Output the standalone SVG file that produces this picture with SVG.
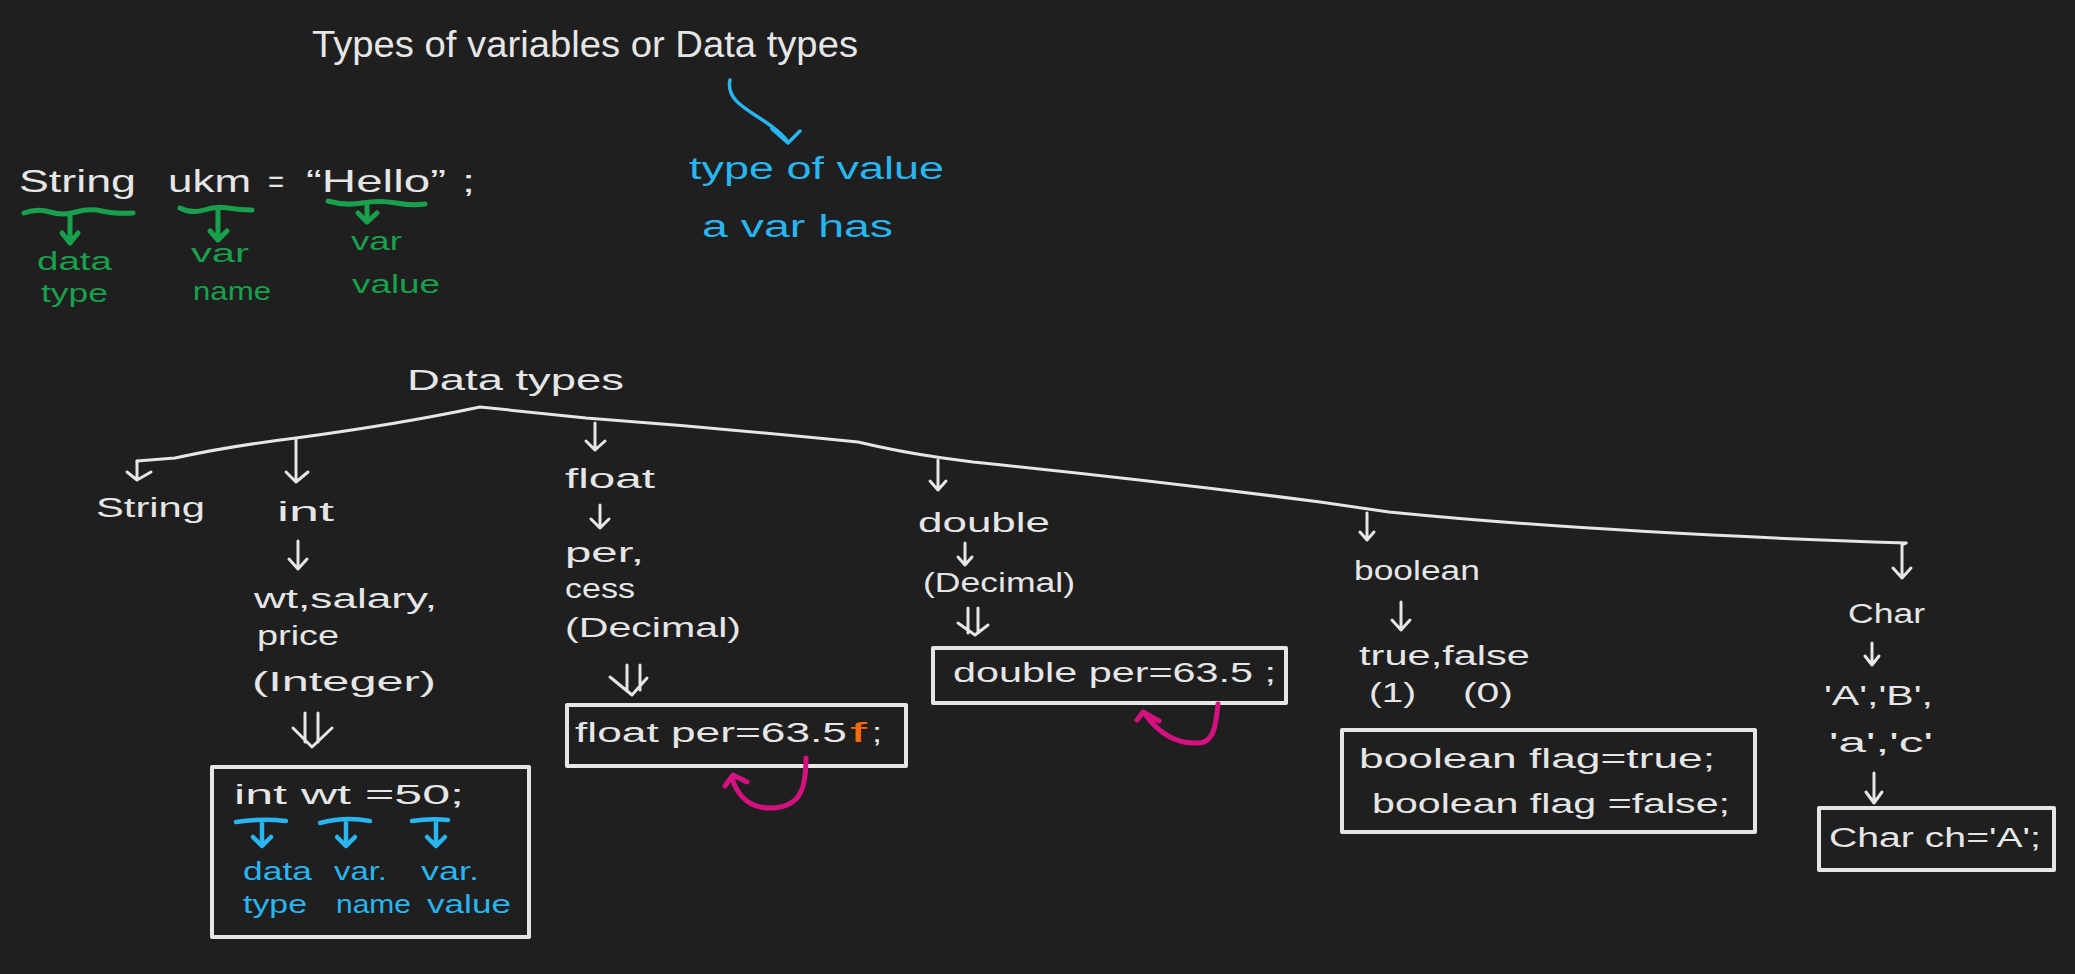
<svg xmlns="http://www.w3.org/2000/svg" width="2075" height="974" viewBox="0 0 2075 974">
<style>
text{font-family:"Liberation Sans","DejaVu Sans",sans-serif;}
.w{fill:#e6e6e6;font-size:27px;}
.t{fill:#e6e6e6;font-size:36px;}
.g{fill:#18a04c;font-size:26px;}
.b{fill:#29b5ef;font-size:26px;}
.bb{fill:#29b5ef;font-size:31px;}
.o{fill:#f76a0a;font-size:27px;}
.ln{fill:none;stroke:#e6e6e6;stroke-width:3;stroke-linecap:round;stroke-linejoin:round;}
.box{fill:none;stroke:#e6e6e6;stroke-width:4;stroke-linejoin:round;}
.gl{fill:none;stroke:#18a04c;stroke-width:5;stroke-linecap:round;stroke-linejoin:round;}
.bl{fill:none;stroke:#29b5ef;stroke-width:4.5;stroke-linecap:round;stroke-linejoin:round;}
.ba{fill:none;stroke:#29b5ef;stroke-width:3.5;stroke-linecap:round;stroke-linejoin:round;}
.ml{fill:none;stroke:#d4117f;stroke-width:5;stroke-linecap:round;stroke-linejoin:round;}
</style>
<rect width="2075" height="974" fill="#1f1f1f"/>

<g id="title">
<text class="t" x="312" y="57" textLength="546" lengthAdjust="spacingAndGlyphs">Types of variables or Data types</text>
</g>

<g id="note-type-of-value">
<text class="bb" x="689" y="179" textLength="255" lengthAdjust="spacingAndGlyphs">type of value</text>
<text class="bb" x="702" y="237" textLength="191" lengthAdjust="spacingAndGlyphs">a var has</text>
</g>

<g id="example-string">
<text class="w" style="font-size:32px" x="19" y="192" textLength="117" lengthAdjust="spacingAndGlyphs">String</text>
<text class="w" style="font-size:32px" x="168" y="192" textLength="83" lengthAdjust="spacingAndGlyphs">ukm</text>
<text class="w" style="font-size:32px" x="268" y="192" textLength="16" lengthAdjust="spacingAndGlyphs">=</text>
<text class="w" style="font-size:32px" x="306" y="192" textLength="140" lengthAdjust="spacingAndGlyphs">“Hello”</text>
<text class="w" style="font-size:32px" x="462" y="192" textLength="13" lengthAdjust="spacingAndGlyphs">;</text>
</g>

<g id="label-data-type">
<text class="g" x="37" y="270" textLength="75" lengthAdjust="spacingAndGlyphs">data</text>
<text class="g" x="41" y="302" textLength="67" lengthAdjust="spacingAndGlyphs">type</text>
</g>
<g id="label-var-name">
<text class="g" x="191" y="262" textLength="58" lengthAdjust="spacingAndGlyphs">var</text>
<text class="g" x="193" y="300" textLength="78" lengthAdjust="spacingAndGlyphs">name</text>
</g>
<g id="label-var-value">
<text class="g" x="351" y="250" textLength="51" lengthAdjust="spacingAndGlyphs">var</text>
<text class="g" x="352" y="293" textLength="88" lengthAdjust="spacingAndGlyphs">value</text>
</g>

<g id="data-types-root">
<text class="w" style="font-size:30px" x="407" y="390" textLength="217" lengthAdjust="spacingAndGlyphs">Data  types</text>
</g>

<g id="node-string">
<text class="w" x="96" y="517" textLength="109" lengthAdjust="spacingAndGlyphs">String</text>
</g>

<g id="node-int">
<text class="w" x="277" y="521" textLength="57" lengthAdjust="spacingAndGlyphs">int</text>
<text class="w" x="254" y="608" textLength="183" lengthAdjust="spacingAndGlyphs">wt,salary,</text>
<text class="w" x="257" y="645" textLength="82" lengthAdjust="spacingAndGlyphs">price</text>
<text class="w" x="252" y="691" textLength="184" lengthAdjust="spacingAndGlyphs">(Integer)</text>
</g>
<g id="box-int">
<rect class="box" x="212" y="767" width="317" height="170"/>
<text class="w" x="234" y="804" textLength="230" lengthAdjust="spacingAndGlyphs">int wt =50;</text>
<path class="bl" d="M236,822 Q261,818 286,821 M262,821 L262,845 M253,837 L262,846 L271,837"/>
<path class="bl" d="M320,823 Q345,816 370,821 M346,821 L346,845 M337,837 L346,846 L355,837"/>
<path class="bl" d="M412,821 Q430,818 448,820 M436,820 L436,845 M427,837 L436,846 L445,837"/>
<text class="b" x="243" y="880" textLength="69" lengthAdjust="spacingAndGlyphs">data</text>
<text class="b" x="334" y="880" textLength="53" lengthAdjust="spacingAndGlyphs">var.</text>
<text class="b" x="421" y="880" textLength="58" lengthAdjust="spacingAndGlyphs">var.</text>
<text class="b" x="243" y="913" textLength="64" lengthAdjust="spacingAndGlyphs">type</text>
<text class="b" x="336" y="913" textLength="75" lengthAdjust="spacingAndGlyphs">name</text>
<text class="b" x="427" y="913" textLength="84" lengthAdjust="spacingAndGlyphs">value</text>
</g>

<g id="node-float">
<text class="w" x="565" y="488" textLength="90" lengthAdjust="spacingAndGlyphs">float</text>
<text class="w" x="565" y="562" textLength="79" lengthAdjust="spacingAndGlyphs">per,</text>
<text class="w" x="565" y="598" textLength="70" lengthAdjust="spacingAndGlyphs">cess</text>
<text class="w" x="565" y="637" textLength="176" lengthAdjust="spacingAndGlyphs">(Decimal)</text>
</g>
<g id="box-float">
<rect class="box" x="567" y="705" width="339" height="61"/>
<text class="w" x="575" y="742" textLength="272" lengthAdjust="spacingAndGlyphs">float per=63.5</text>
<text class="o" x="850" y="742" textLength="17" lengthAdjust="spacingAndGlyphs">f</text>
<text class="w" x="872" y="742" textLength="10" lengthAdjust="spacingAndGlyphs">;</text>
</g>

<g id="node-double">
<text class="w" x="918" y="532" textLength="132" lengthAdjust="spacingAndGlyphs">double</text>
<text class="w" x="923" y="592" textLength="152" lengthAdjust="spacingAndGlyphs">(Decimal)</text>
</g>
<g id="box-double">
<rect class="box" x="933" y="648" width="353" height="55"/>
<text class="w" x="953" y="682" textLength="323" lengthAdjust="spacingAndGlyphs">double  per=63.5 ;</text>
</g>

<g id="node-boolean">
<text class="w" x="1354" y="580" textLength="126" lengthAdjust="spacingAndGlyphs">boolean</text>
<text class="w" x="1359" y="665" textLength="171" lengthAdjust="spacingAndGlyphs">true,false</text>
<text class="w" x="1369" y="702" textLength="47" lengthAdjust="spacingAndGlyphs">(1)</text>
<text class="w" x="1463" y="702" textLength="50" lengthAdjust="spacingAndGlyphs">(0)</text>
</g>
<g id="box-boolean">
<rect class="box" x="1342" y="730" width="413" height="102"/>
<text class="w" x="1359" y="768" textLength="356" lengthAdjust="spacingAndGlyphs">boolean flag=true;</text>
<text class="w" x="1372" y="813" textLength="358" lengthAdjust="spacingAndGlyphs">boolean flag =false;</text>
</g>

<g id="node-char">
<text class="w" x="1848" y="623" textLength="77" lengthAdjust="spacingAndGlyphs">Char</text>
<text class="w" x="1824" y="705" textLength="109" lengthAdjust="spacingAndGlyphs">'A','B',</text>
<text class="w" x="1829" y="752" textLength="104" lengthAdjust="spacingAndGlyphs">'a','c'</text>
</g>
<g id="box-char">
<rect class="box" x="1819" y="808" width="235" height="62"/>
<text class="w" x="1829" y="847" textLength="212" lengthAdjust="spacingAndGlyphs">Char ch='A';</text>
</g>

<g id="connectors">
<path class="ba" d="M730,80 C724,108 768,115 788,142 M772,129 L788,143 L800,131"/>
<path class="gl" d="M24,213 Q37,208 50,212 T76,212 T102,211 T133,213 M70,213 L70,243 M62,233 L70,243 L78,233"/>
<path class="gl" d="M180,208 Q192,214 204,210 T228,208 T252,210 M218,210 L218,240 M210,231 L218,240 L227,231"/>
<path class="gl" d="M328,201 Q345,206 362,203 T396,203 T425,204 M367,204 L367,222 M358,213 L367,222 L377,213"/>
<path class="ln" d="M137,461 L175,458 Q230,446 296,438 Q400,424 480,407 L586,418 Q720,428 858,442 Q900,452 943,458 L973,462 Q1150,480 1320,502 L1389,512 Q1600,533 1906,543"/>
<path class="ln" d="M137,461 L137,480 M127,472 L137,480 L151,472"/>
<path class="ln" d="M296,440 L296,482 M286,472 L296,482 L308,472"/>
<path class="ln" d="M595,423 L595,450 M586,441 L595,450 L605,441"/>
<path class="ln" d="M938,460 L938,490 M930,481 L938,490 L946,481"/>
<path class="ln" d="M1367,513 L1367,540 M1360,532 L1367,540 L1374,532"/>
<path class="ln" d="M1906,543 L1902,545 L1902,578 M1893,568 L1902,578 L1911,568"/>
<path class="ln" d="M298,541 L298,569 M289,559 L298,569 L307,559"/>
<path class="ln" d="M305,713 L305,742 M318,713 L318,742 M293,728 L312,747 L332,728"/>
<path class="ln" d="M600,505 L600,528 M591,519 L600,528 L609,519"/>
<path class="ln" d="M627,665 L627,690 M640,665 L640,690 M610,677 L632,695 L647,678"/>
<path class="ln" d="M965,543 L965,565 M958,557 L965,565 L972,557"/>
<path class="ln" d="M968,608 L968,633 M978,608 L978,633 M958,623 L975,635 L988,625"/>
<path class="ln" d="M1401,602 L1401,630 M1392,620 L1401,630 L1410,620"/>
<path class="ln" d="M1872,643 L1872,665 M1865,656 L1872,665 L1879,656"/>
<path class="ln" d="M1874,773 L1874,803 M1866,792 L1874,803 L1882,792"/>
<path class="ml" d="M806,758 C806,790 800,806 773,808 C752,809 738,798 732,778 M725,786 L733,775 L747,782"/>
<path class="ml" d="M1218,704 C1216,725 1214,743 1198,743 C1178,744 1160,735 1145,714 M1137,720 L1143,712 L1159,721"/>
</g>
</svg>
